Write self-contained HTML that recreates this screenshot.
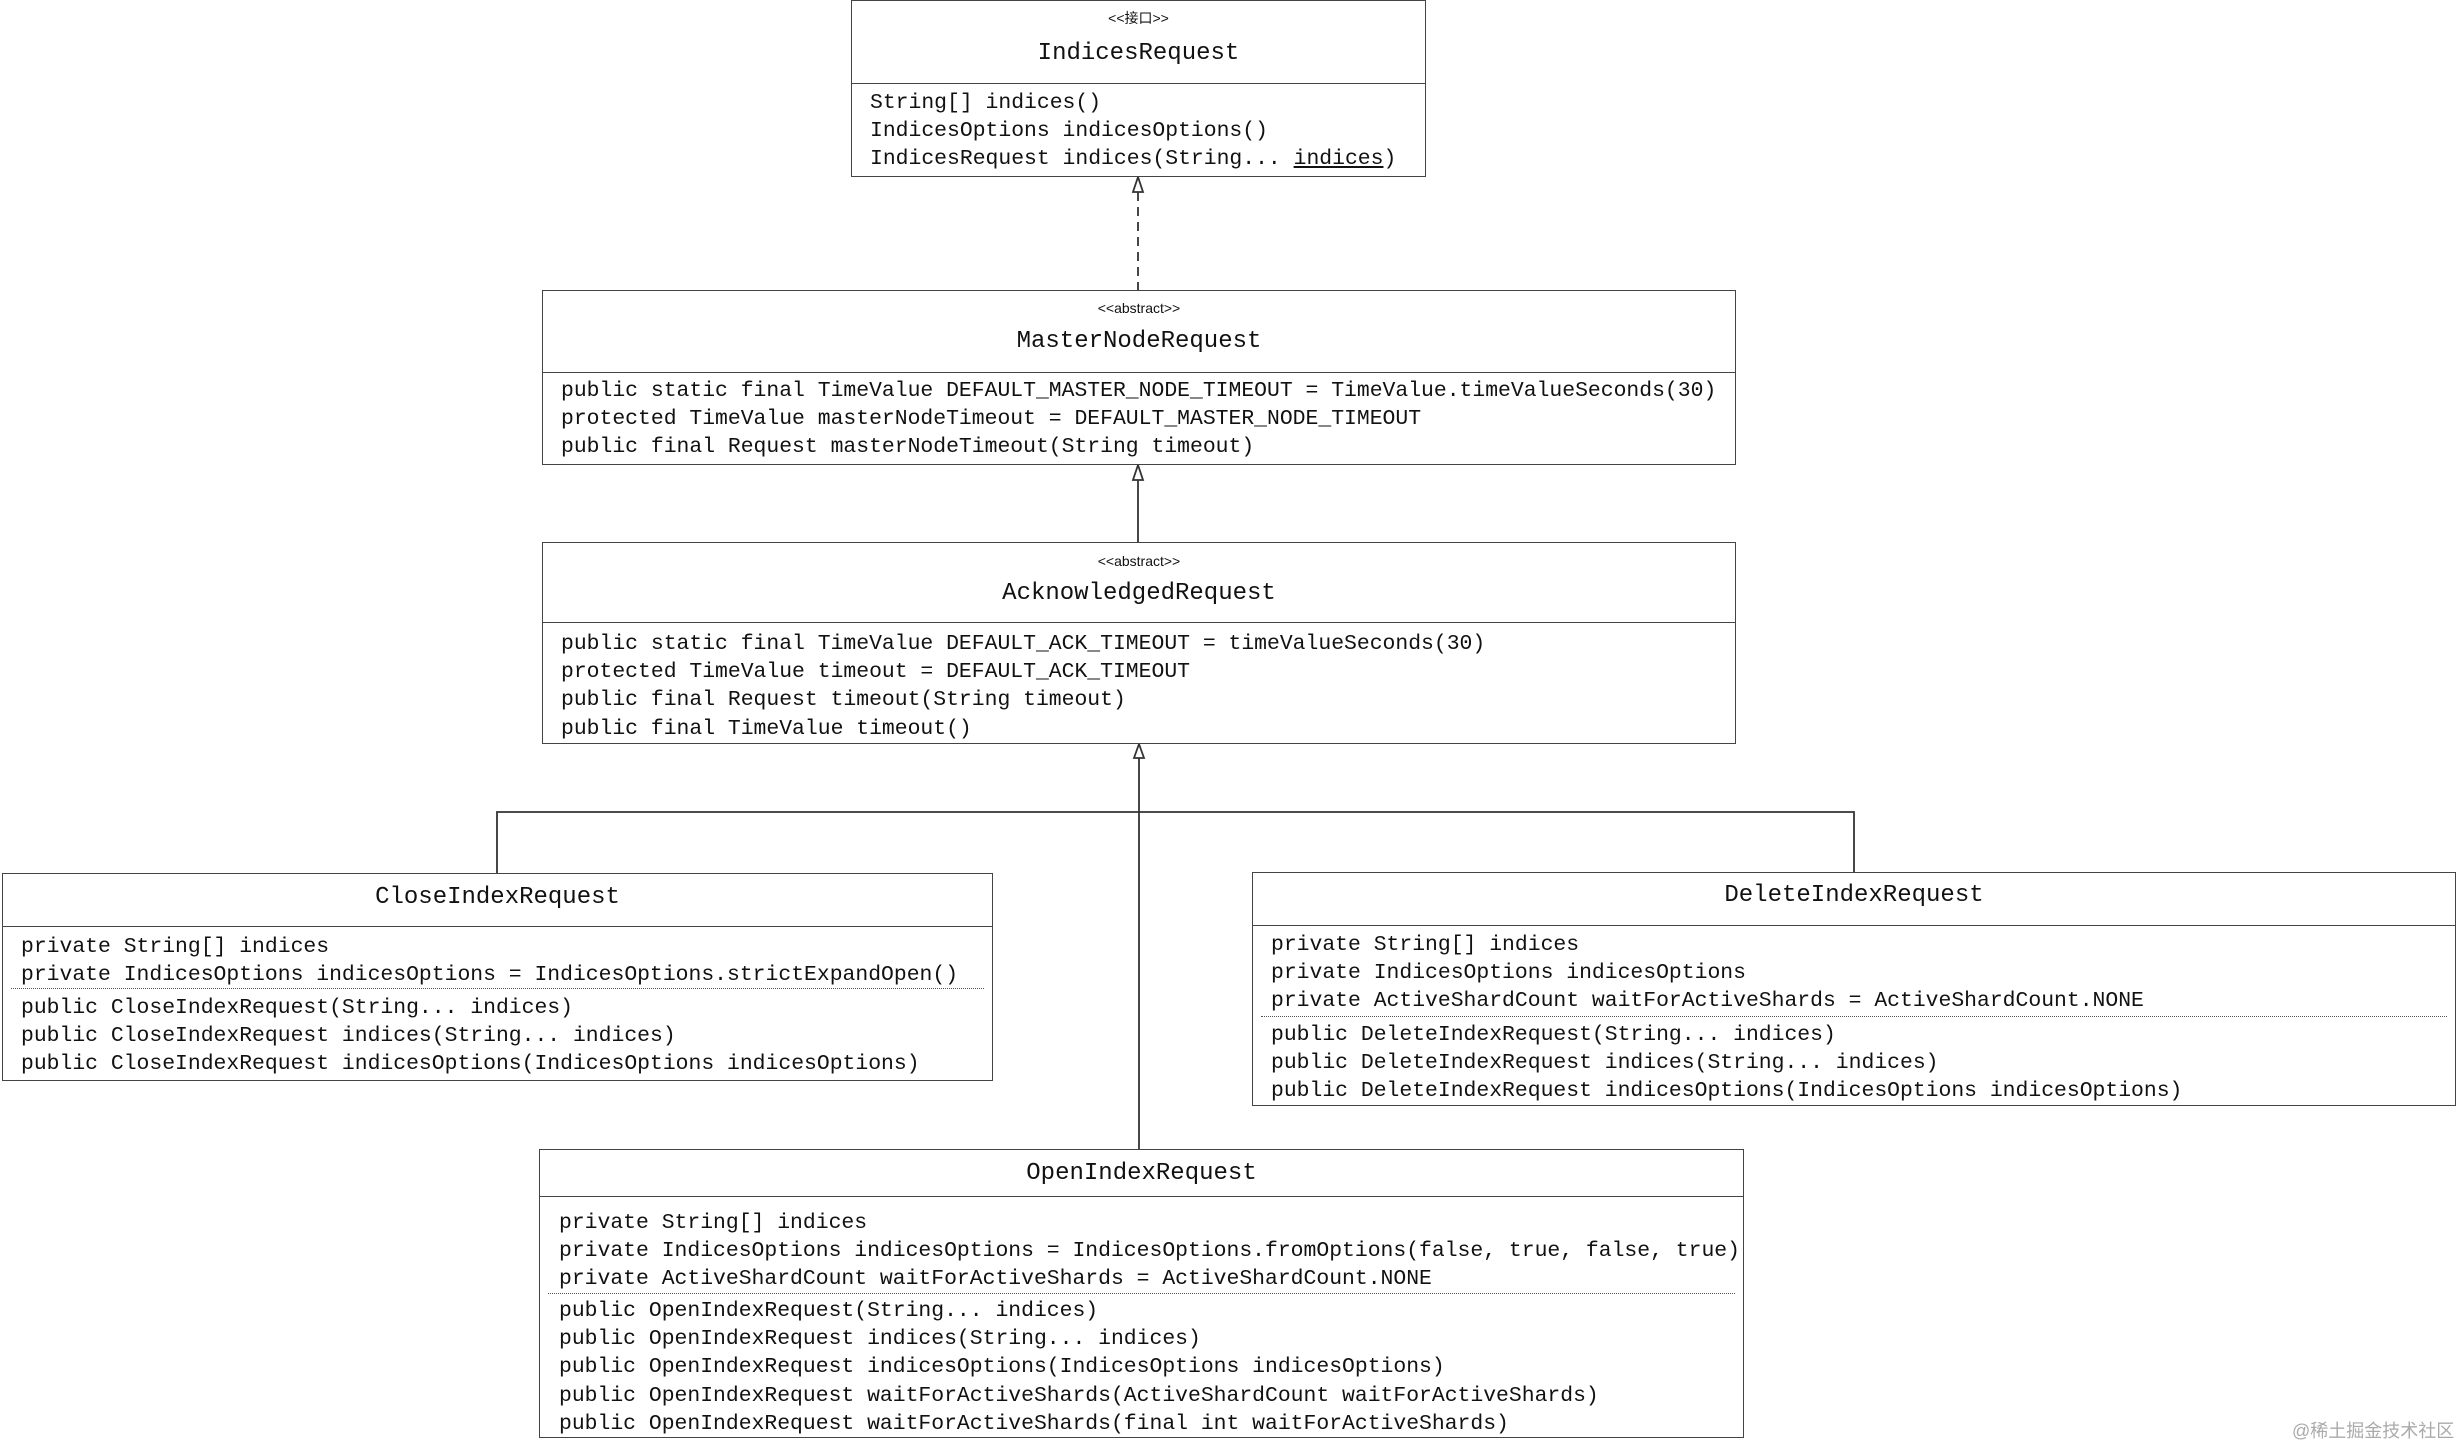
<!DOCTYPE html>
<html><head><meta charset="utf-8"><style>
body{margin:0;width:2458px;height:1446px;background:#fff;position:relative;overflow:hidden;font-family:"Liberation Mono","Noto Sans CJK SC",monospace;color:#111}
.b{position:absolute;border:1.5px solid #444;box-sizing:border-box;background:#fff}
.t{position:absolute;white-space:pre;font-size:21.4px;line-height:28.2px}
.h{position:absolute;left:0;right:0;text-align:center;white-space:pre;font-size:24px;line-height:30px}
.s{position:absolute;left:0;right:0;text-align:center;font-family:"Liberation Sans","Noto Sans CJK SC",sans-serif;font-size:14px;line-height:18px}
.d{position:absolute;left:0;right:0;border-top:1.5px solid #444}
.dot{position:absolute;left:8px;right:8px;border-top:1.5px dotted #555}
</style></head><body>
<svg width="2458" height="1446" style="position:absolute;left:0;top:0">
<g stroke="#333" stroke-width="1.8" fill="none">
<line x1="1138" y1="192" x2="1138" y2="290" stroke-dasharray="9,6"/>
<line x1="1138" y1="480" x2="1138" y2="542"/>
<line x1="1139" y1="758" x2="1139" y2="1149"/>
<polyline points="497,873 497,812 1854,812 1854,872"/>
</g>
<g stroke="#333" stroke-width="1.8" fill="#fff">
<polygon points="1138,177 1133,192 1143,192"/>
<polygon points="1138,465 1133,480 1143,480"/>
<polygon points="1139,744 1134,758 1144,758"/>
</g>
</svg>

<div class="b" style="left:851px;top:0;width:575px;height:177px">
<div class="s" style="top:8px">&lt;&lt;接口&gt;&gt;</div>
<div class="h" style="top:38px">IndicesRequest</div>
<div class="d" style="top:82px"></div>
<div class="t" style="left:18px;top:88px">String[] indices()
IndicesOptions indicesOptions()
IndicesRequest indices(String... <u>indices</u>)</div>
</div>

<div class="b" style="left:542px;top:290px;width:1194px;height:175px">
<div class="s" style="top:8px">&lt;&lt;abstract&gt;&gt;</div>
<div class="h" style="top:36px">MasterNodeRequest</div>
<div class="d" style="top:81px"></div>
<div class="t" style="left:18px;top:86px">public static final TimeValue DEFAULT_MASTER_NODE_TIMEOUT = TimeValue.timeValueSeconds(30)
protected TimeValue masterNodeTimeout = DEFAULT_MASTER_NODE_TIMEOUT
public final Request masterNodeTimeout(String timeout)</div>
</div>

<div class="b" style="left:542px;top:542px;width:1194px;height:202px">
<div class="s" style="top:9px">&lt;&lt;abstract&gt;&gt;</div>
<div class="h" style="top:36px">AcknowledgedRequest</div>
<div class="d" style="top:79px"></div>
<div class="t" style="left:18px;top:87px">public static final TimeValue DEFAULT_ACK_TIMEOUT = timeValueSeconds(30)
protected TimeValue timeout = DEFAULT_ACK_TIMEOUT
public final Request timeout(String timeout)
public final TimeValue timeout()</div>
</div>

<div class="b" style="left:2px;top:873px;width:991px;height:208px">
<div class="h" style="top:9px">CloseIndexRequest</div>
<div class="d" style="top:52px"></div>
<div class="t" style="left:18px;top:59px">private String[] indices
private IndicesOptions indicesOptions = IndicesOptions.strictExpandOpen()</div>
<div class="dot" style="top:114px"></div>
<div class="t" style="left:18px;top:120px">public CloseIndexRequest(String... indices)
public CloseIndexRequest indices(String... indices)
public CloseIndexRequest indicesOptions(IndicesOptions indicesOptions)</div>
</div>

<div class="b" style="left:1252px;top:872px;width:1204px;height:234px">
<div class="h" style="top:8px">DeleteIndexRequest</div>
<div class="d" style="top:52px"></div>
<div class="t" style="left:18px;top:58px">private String[] indices
private IndicesOptions indicesOptions
private ActiveShardCount waitForActiveShards = ActiveShardCount.NONE</div>
<div class="dot" style="top:143px"></div>
<div class="t" style="left:18px;top:148px">public DeleteIndexRequest(String... indices)
public DeleteIndexRequest indices(String... indices)
public DeleteIndexRequest indicesOptions(IndicesOptions indicesOptions)</div>
</div>

<div class="b" style="left:539px;top:1149px;width:1205px;height:289px">
<div class="h" style="top:9px">OpenIndexRequest</div>
<div class="d" style="top:46px"></div>
<div class="t" style="left:19px;top:59px">private String[] indices
private IndicesOptions indicesOptions = IndicesOptions.fromOptions(false, true, false, true)
private ActiveShardCount waitForActiveShards = ActiveShardCount.NONE</div>
<div class="dot" style="top:143px"></div>
<div class="t" style="left:19px;top:147px">public OpenIndexRequest(String... indices)
public OpenIndexRequest indices(String... indices)
public OpenIndexRequest indicesOptions(IndicesOptions indicesOptions)
public OpenIndexRequest waitForActiveShards(ActiveShardCount waitForActiveShards)
public OpenIndexRequest waitForActiveShards(final int waitForActiveShards)</div>
</div>

<div style="position:absolute;left:2292px;top:1417px;font-family:'Liberation Sans','Noto Sans CJK SC',sans-serif;font-size:18px;color:#aaa;white-space:nowrap">@稀土掘金技术社区</div>
</body></html>
